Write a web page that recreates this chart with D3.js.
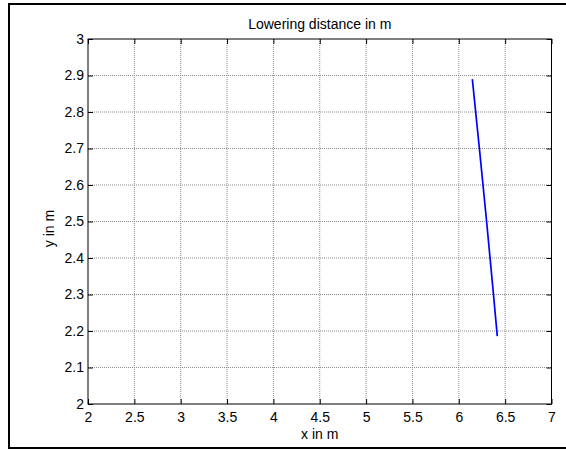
<!DOCTYPE html>
<html>
<head>
<meta charset="utf-8">
<script src="https://cdn.jsdelivr.net/npm/d3@7"></script>
<style>
  body { margin: 0; background: #fff; }
  text { font-family: "Liberation Sans", Arial, sans-serif; fill: #000; }
</style>
</head>
<body>
<div id="chart"></div>
<script>
// data
const xTicks = [2, 2.5, 3, 3.5, 4, 4.5, 5, 5.5, 6, 6.5, 7];
const yTicks = [2, 2.1, 2.2, 2.3, 2.4, 2.5, 2.6, 2.7, 2.8, 2.9, 3];
const pathX = [6.146, 6.222, 6.300, 6.374, 6.415];
const pathY = [2.890, 2.700, 2.500, 2.300, 2.186];
const titleText = "Lowering distance in m";
const xLabel = "x in m";
const yLabel = "y in m";

const W = 566, H = 450;
const margin = {top: 39, right: 14.5, bottom: 46, left: 88};
const width = W - margin.left - margin.right;
const height = H - margin.top - margin.bottom;

const svgRoot = d3.select("#chart")
  .append("svg")
  .attr("width", W)
  .attr("height", H);

// outer figure frame
svgRoot.append("rect")
  .attr("x", 9).attr("y", 4)
  .attr("width", 600).attr("height", 444)
  .attr("fill", "none")
  .attr("stroke", "#000")
  .attr("stroke-width", 2);

const svg = svgRoot.append("g")
  .attr("transform", `translate(${margin.left}, ${margin.top})`);

const x = d3.scaleLinear().domain([2, 7]).range([0, width]);
const y = d3.scaleLinear().domain([2, 3]).range([height, 0]);

// grid
svg.append("g")
  .selectAll("line")
  .data(xTicks.slice(1, -1))
  .join("line")
    .attr("x1", d => x(d)).attr("x2", d => x(d))
    .attr("y1", 0).attr("y2", height)
    .attr("stroke", "#8c8c8c")
    .attr("stroke-dasharray", "1,1");
svg.append("g")
  .selectAll("line")
  .data(yTicks.slice(1, -1))
  .join("line")
    .attr("y1", d => y(d)).attr("y2", d => y(d))
    .attr("x1", 0).attr("x2", width)
    .attr("stroke", "#8c8c8c")
    .attr("stroke-dasharray", "1,1");

// axes (MATLAB style: inward ticks on all sides)
const fmt = d => String(d);
svg.append("g")
  .attr("transform", `translate(0, ${height})`)
  .call(d3.axisBottom(x).tickValues(xTicks).tickSize(-5).tickPadding(8).tickFormat(fmt))
  .call(g => g.select(".domain").remove());
svg.append("g")
  .call(d3.axisTop(x).tickValues(xTicks).tickSize(-5).tickFormat(""))
  .call(g => g.select(".domain").remove());
svg.append("g")
  .call(d3.axisLeft(y).tickValues(yTicks).tickSize(-5).tickPadding(4).tickFormat(fmt))
  .call(g => g.select(".domain").remove());
svg.append("g")
  .attr("transform", `translate(${width}, 0)`)
  .call(d3.axisRight(y).tickValues(yTicks).tickSize(-5).tickFormat(""))
  .call(g => g.select(".domain").remove());

svg.selectAll(".tick text")
  .style("font-size", "14px")
  .style("font-family", "'Liberation Sans', Arial, sans-serif");

// plot box
svg.append("rect")
  .attr("width", width).attr("height", height)
  .attr("fill", "none")
  .attr("stroke", "#000")
  .attr("stroke-width", 1);

// line
const pts = pathX.map((d, i) => [d, pathY[i]]);
svg.append("path")
  .datum(pts)
  .attr("fill", "none")
  .attr("stroke", "#0000ff")
  .attr("stroke-width", 1.7)
  .attr("d", d3.line().curve(d3.curveMonotoneY).x(d => x(d[0])).y(d => y(d[1])));

// title
svg.append("text")
  .attr("x", width / 2)
  .attr("y", -10)
  .style("text-anchor", "middle")
  .style("font-size", "14px")
  .text(titleText);

// x label
svg.append("text")
  .attr("x", width / 2)
  .attr("y", height + 35)
  .style("text-anchor", "middle")
  .style("font-size", "14px")
  .text(xLabel);

// y label
svg.append("text")
  .attr("transform", "rotate(-90)")
  .attr("x", -height / 2 - 7)
  .attr("y", 54 - margin.left)
  .style("text-anchor", "middle")
  .style("font-size", "14px")
  .text(yLabel);
</script>
</body>
</html>
